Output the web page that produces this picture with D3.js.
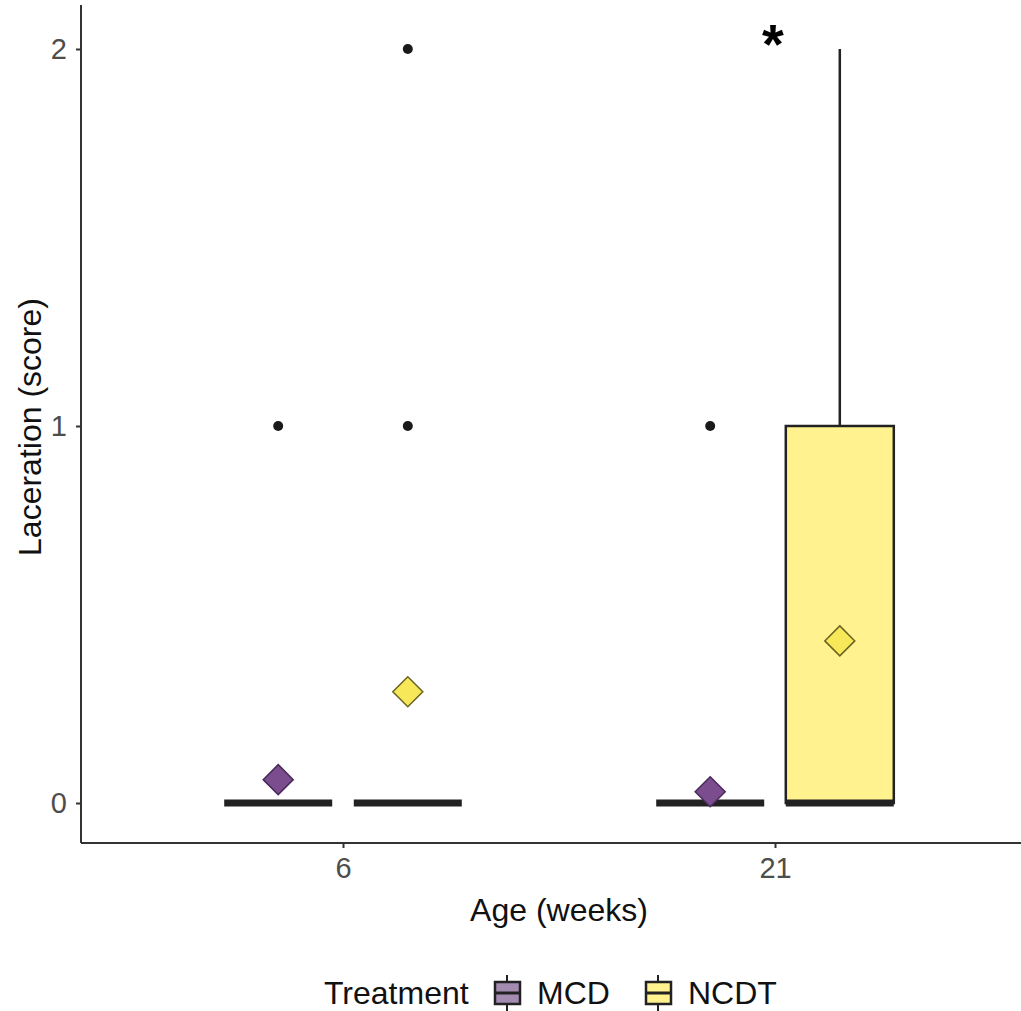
<!DOCTYPE html>
<html>
<head>
<meta charset="utf-8">
<script src="https://cdn.jsdelivr.net/npm/d3@7"></script>
<style>
  body { margin: 0; background: #fff; }
  text { font-family: "Liberation Sans", Arial, sans-serif; }
</style>
</head>
<body>
<svg width="1021" height="1011"></svg>
<script>
// data
var ages = ["6", "21"];
var treatments = ["MCD", "NCDT"];
var colours = { MCD: "#a48bb1", NCDT: "#fff28f" };
var meanColours = { MCD: "#7b4d8e", NCDT: "#f7e85a" };
// box stats per age x treatment
var boxes = [
  { age: "6",  trt: "MCD",  lower: 0, q1: 0, median: 0, q3: 0, upper: 0, mean: 0.062, outliers: [1] },
  { age: "6",  trt: "NCDT", lower: 0, q1: 0, median: 0, q3: 0, upper: 0, mean: 0.295, outliers: [1, 2] },
  { age: "21", trt: "MCD",  lower: 0, q1: 0, median: 0, q3: 0, upper: 0, mean: 0.03,  outliers: [1] },
  { age: "21", trt: "NCDT", lower: 0, q1: 0, median: 0, q3: 1, upper: 2, mean: 0.43,  outliers: [] }
];
var yTicks = [0, 1, 2];
var signif = [{ age: "21", y: 2, label: "*" }];

var svg = d3.select("svg");

var x = d3.scaleLinear().domain([0.4, 2.6]).range([83.8, 1034.2]);
var xPos = function (age) { return x(ages.indexOf(age) + 1); };
var dodge = d3.scaleOrdinal().domain(treatments).range([-0.15, 0.15]);
var boxW = 0.25;
var y = d3.scaleLinear().domain([0, 2]).range([803, 49]);

function cx(d) { return x(ages.indexOf(d.age) + 1 + dodge(d.trt)); }
var halfW = (x(boxW) - x(0)) / 2;

// axes
var yAxis = svg.append("g").attr("transform", "translate(81,0)")
  .call(d3.axisLeft(y).tickValues(yTicks).tickFormat(d3.format("d")).tickSize(5).tickPadding(9));
yAxis.select(".domain").attr("d", "M0,5V843");
var xAxis = svg.append("g").attr("transform", "translate(0,843)")
  .call(d3.axisBottom(x).tickValues([1, 2]).tickFormat(function (d) { return ages[d - 1]; }).tickSize(5).tickPadding(9));
xAxis.select(".domain").attr("d", "M81,0H1021");
svg.selectAll(".domain").attr("stroke", "#333").attr("stroke-width", 2);
svg.selectAll(".tick line").attr("stroke", "#333").attr("stroke-width", 2);
svg.selectAll(".tick text").attr("fill", "#4d4d4d").attr("font-size", 29);

// whiskers
var g = svg.append("g");
g.selectAll("line.whisk").data(boxes).enter().append("line")
  .attr("x1", cx).attr("x2", cx)
  .attr("y1", function (d) { return y(d.q3); }).attr("y2", function (d) { return y(d.upper); })
  .attr("stroke", "#222").attr("stroke-width", 2.5);
g.selectAll("line.whisk2").data(boxes).enter().append("line")
  .attr("x1", cx).attr("x2", cx)
  .attr("y1", function (d) { return y(d.q1); }).attr("y2", function (d) { return y(d.lower); })
  .attr("stroke", "#222").attr("stroke-width", 2.5);

// boxes
g.selectAll("rect.box").data(boxes.filter(function (d) { return d.q3 > d.q1; })).enter().append("rect")
  .attr("x", function (d) { return cx(d) - halfW; })
  .attr("width", halfW * 2)
  .attr("y", function (d) { return y(d.q3); })
  .attr("height", function (d) { return y(d.q1) - y(d.q3); })
  .attr("fill", function (d) { return colours[d.trt]; })
  .attr("stroke", "#222").attr("stroke-width", 2.5);

// medians
g.selectAll("line.med").data(boxes).enter().append("line")
  .attr("x1", function (d) { return cx(d) - halfW; })
  .attr("x2", function (d) { return cx(d) + halfW; })
  .attr("y1", function (d) { return y(d.median); }).attr("y2", function (d) { return y(d.median); })
  .attr("stroke", "#222").attr("stroke-width", 7);

// outliers
boxes.forEach(function (b) {
  g.selectAll(null).data(b.outliers).enter().append("circle")
    .attr("cx", cx(b)).attr("cy", function (v) { return y(v); }).attr("r", 5)
    .attr("fill", "#1a1a1a");
});

// means
var dm = 15;
g.selectAll("path.mean").data(boxes).enter().append("path")
  .attr("d", function (d) {
    var px = cx(d), py = y(d.mean);
    return "M" + px + "," + (py - dm) + "L" + (px + dm) + "," + py + "L" + px + "," + (py + dm) + "L" + (px - dm) + "," + py + "Z";
  })
  .attr("fill", function (d) { return meanColours[d.trt]; })
  .attr("stroke", function (d) { return d.trt === "MCD" ? "#4a2a5a" : "#6b6420"; })
  .attr("stroke-width", 1.5);

// significance star
svg.selectAll("text.sig").data(signif).enter().append("text")
  .attr("x", function (d) { return xPos(d.age) - 2; })
  .attr("y", function (d) { return y(d.y) + 14; })
  .attr("text-anchor", "middle").attr("font-size", 56).attr("font-weight", "bold")
  .text(function (d) { return d.label; });

// axis titles
svg.append("text").attr("x", 559).attr("y", 921).attr("text-anchor", "middle")
  .attr("font-size", 32).attr("fill", "#111").text("Age (weeks)");
svg.append("text").attr("transform", "translate(41,427) rotate(-90)").attr("text-anchor", "middle")
  .attr("font-size", 32).attr("fill", "#111").text("Laceration (score)");

// legend
var leg = svg.append("g").attr("transform", "translate(0,993)");
leg.append("text").attr("x", 324).attr("y", 11).attr("font-size", 32).attr("fill", "#111").text("Treatment");
var keyX = { MCD: 494, NCDT: 645 };
var labX = { MCD: 537, NCDT: 688 };
treatments.forEach(function (t) {
  var k = leg.append("g").attr("transform", "translate(" + keyX[t] + ",0)");
  k.append("line").attr("x1", 13).attr("x2", 13).attr("y1", -18).attr("y2", 18).attr("stroke", "#222").attr("stroke-width", 2);
  k.append("rect").attr("x", 1).attr("y", -11).attr("width", 25).attr("height", 22)
    .attr("fill", colours[t]).attr("stroke", "#222").attr("stroke-width", 2.5);
  k.append("line").attr("x1", 1).attr("x2", 26).attr("y1", 0).attr("y2", 0).attr("stroke", "#222").attr("stroke-width", 3);
  leg.append("text").attr("x", labX[t]).attr("y", 11).attr("font-size", 32).attr("fill", "#111").text(t);
});
</script>
</body>
</html>
